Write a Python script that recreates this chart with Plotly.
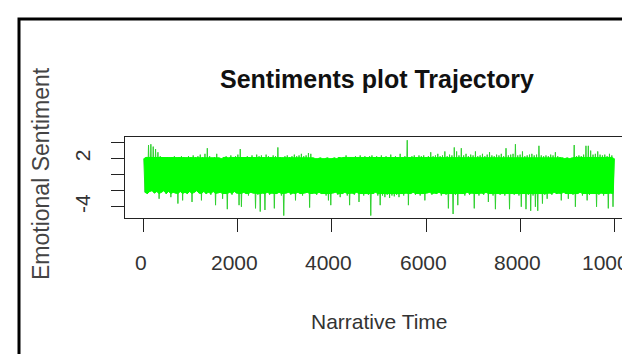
import plotly.graph_objects as go

# Narrative time window size (each window holds the highest and lowest sentiment seen)
WINDOW = 50
TIME_END = 10000

# Highest sentiment per 50-step window (201 windows incl. final point at t=10000)
peak_high = [
    2.0, 2.2, 3.7, 3.8, 3.5, 3.2, 2.8, 2.3, 2.2, 2.1,
    2.2, 2.1, 2.2, 2.3, 2.1, 2.2, 2.3, 2.2, 2.1, 2.3,
    2.2, 2.4, 2.2, 2.3, 2.5, 2.2, 2.6, 3.3, 2.3, 2.1,
    2.2, 2.6, 2.1, 2.0, 2.2, 2.3, 2.1, 2.4, 2.2, 2.3,
    2.5, 3.2, 2.2, 2.1, 2.3, 2.2, 2.4, 2.2, 2.5, 2.3,
    2.4, 2.2, 2.5, 2.3, 2.2, 2.4, 2.3, 3.4, 2.2, 2.1,
    2.3, 2.4, 2.2, 2.3, 2.5, 2.3, 2.4, 2.6, 2.3, 2.4,
    2.7, 2.6, 2.1, 2.0, 2.0, 2.1, 2.0, 2.0, 2.1, 2.0,
    2.0, 2.1, 2.0, 2.2, 2.1, 2.2, 2.4, 2.1, 2.2, 2.1,
    2.3, 2.2, 2.4, 2.2, 2.3, 2.1, 2.3, 2.4, 2.2, 2.3,
    2.1, 2.4, 2.2, 2.3, 2.1, 2.5, 2.2, 2.3, 2.2, 2.6,
    2.2, 2.3, 4.3, 2.2, 2.3, 2.4, 2.2, 2.4, 2.3, 2.4,
    2.2, 2.3, 2.8, 2.3, 2.4, 2.6, 2.3, 2.4, 2.9, 2.3,
    2.5, 2.4, 3.4, 2.9, 2.4, 3.3, 2.4, 2.6, 2.3, 2.5,
    2.4, 2.9, 2.3, 2.4, 2.6, 2.3, 2.5, 2.8, 2.4, 2.3,
    2.5, 2.4, 2.6, 2.3, 3.3, 2.4, 2.5, 2.6, 3.8, 2.4,
    2.5, 2.9, 2.3, 2.4, 2.5, 2.6, 2.4, 2.5, 3.6, 2.4,
    2.3, 2.4, 2.3, 2.5, 2.4, 2.8, 2.3, 2.2, 2.1, 2.0,
    2.1, 2.0, 2.1, 3.7, 2.3, 2.4, 2.3, 2.5, 3.6, 3.6,
    3.0, 2.5, 2.6, 2.9, 2.5, 2.4, 2.5, 2.3, 2.6, 2.4,
    2.0,
]

# Lowest sentiment per 50-step window (200 windows)
peak_low = [
    -2.2, -2.4, -2.1, -2.0, -2.3, -2.1, -3.0, -2.2, -2.0, -2.4,
    -2.1, -2.8, -2.2, -2.3, -3.6, -2.1, -3.2, -2.2, -2.4, -2.1,
    -3.4, -2.2, -2.0, -2.3, -3.2, -2.1, -2.4, -2.2, -2.5, -2.1,
    -3.8, -2.3, -2.2, -3.0, -2.4, -4.3, -2.2, -2.5, -2.1, -2.3,
    -3.8, -4.0, -2.2, -2.4, -2.6, -2.2, -2.3, -4.2, -2.5, -4.6,
    -2.3, -4.4, -2.2, -2.5, -2.3, -4.2, -2.4, -2.2, -2.6, -5.1,
    -2.3, -2.2, -2.5, -2.3, -3.2, -2.2, -2.4, -2.6, -2.3, -2.2,
    -4.1, -2.4, -2.3, -2.5, -2.2, -2.4, -2.3, -2.6, -3.2, -3.8,
    -2.3, -2.2, -2.5, -2.8, -2.4, -2.2, -2.6, -3.8, -2.3, -2.5,
    -2.2, -3.4, -2.4, -2.6, -2.3, -2.5, -5.1, -2.4, -2.2, -2.6,
    -3.8, -2.6, -2.8, -2.5, -2.9, -2.6, -2.7, -2.5, -2.8, -2.4,
    -2.6, -2.3, -3.8, -2.4, -2.2, -2.5, -2.3, -2.6, -2.4, -3.2,
    -2.3, -2.2, -2.5, -2.3, -2.4, -2.2, -2.6, -2.3, -2.5, -4.2,
    -2.4, -4.9, -2.5, -3.8, -2.3, -2.4, -2.6, -2.2, -2.5, -2.3,
    -4.2, -2.4, -2.6, -2.3, -2.5, -2.2, -3.4, -2.4, -2.6, -4.3,
    -2.3, -2.5, -2.4, -2.6, -2.3, -4.3, -2.4, -2.5, -2.3, -2.6,
    -4.0, -2.4, -4.3, -2.5, -4.5, -2.6, -4.0, -4.5, -2.4, -3.6,
    -2.5, -3.0, -2.3, -2.5, -2.2, -2.4, -2.3, -3.2, -2.2, -2.4,
    -3.0, -2.3, -2.5, -4.0, -2.4, -2.2, -2.6, -2.3, -3.2, -2.5,
    -2.3, -2.4, -4.0, -2.5, -2.3, -2.6, -2.4, -4.2, -2.3, -4.0,
]

x_ticks = [0, 2000, 4000, 6000, 8000, 10000]
x_tick_labels = ["0", "2000", "4000", "6000", "8000", "10000"]
y_ticks = [-4, -2, 0, 2, 4]
y_tick_labels = ["-4", "", "", "2", ""]

# Trajectory: high and low of each window, in time order (thin spikes)
times, sentiment = [], []
for i, lo in enumerate(peak_low):
    times.append(i * WINDOW)
    sentiment.append(peak_high[i])
    times.append(i * WINDOW + WINDOW / 2)
    sentiment.append(lo)
times.append(TIME_END)
sentiment.append(peak_high[-1])

# Dense core of the band: the same windows, limited to the thick central region
CORE_TOP, CORE_BOTTOM = 2.15, -2.35
high_times = [i * WINDOW for i in range(len(peak_high) - 1)] + [TIME_END]
low_times = [i * WINDOW + WINDOW / 2 for i in range(len(peak_low))]
core_x = high_times + low_times[::-1]
core_y = [min(v, CORE_TOP) for v in peak_high] + [max(v, CORE_BOTTOM) for v in peak_low][::-1]

W, H = 630, 354
FONT = "Liberation Sans, Arial, Helvetica, sans-serif"
GREEN = "#00FF00"
SPIKE_GREEN = "#2fd02f"

fig = go.Figure()
fig.add_trace(go.Scatter(
    x=times, y=sentiment, mode="lines",
    line=dict(color=SPIKE_GREEN, width=1),
    showlegend=False, hoverinfo="skip",
))
fig.add_trace(go.Scatter(
    x=core_x, y=core_y, mode="lines", fill="toself", fillcolor=GREEN,
    line=dict(color=GREEN, width=1),
    showlegend=False, hoverinfo="skip",
))

annotations = [
    dict(text="<b>Sentiments plot Trajectory</b>", x=369 / W, y=1 - 71 / H,
         xref="paper", yref="paper", xanchor="center", yanchor="middle",
         showarrow=False, font=dict(size=25, family=FONT, color="#111111")),
    dict(text="Narrative Time", x=371 / W, y=1 - 313 / H,
         xref="paper", yref="paper", xanchor="center", yanchor="middle",
         showarrow=False, font=dict(size=21, family=FONT, color="#333333")),
    dict(text="Emotional Sentiment", x=33 / W, y=1 - 166 / H, textangle=-90,
         xref="paper", yref="paper", xanchor="center", yanchor="middle",
         showarrow=False, font=dict(size=23, family=FONT, color="#444444")),
]
for tv, tl in zip(x_ticks, x_tick_labels):
    annotations.append(dict(
        text=tl, x=tv, xref="x", y=1 - 254 / H, yref="paper",
        xanchor="center", yanchor="middle", showarrow=False, xshift=-3,
        font=dict(size=21, family=FONT, color="#333333"),
    ))

fig.update_layout(
    width=W, height=H, autosize=False,
    margin=dict(l=0, r=0, t=0, b=0),
    paper_bgcolor="white", plot_bgcolor="white",
    font=dict(family=FONT, color="#222222"),
    xaxis=dict(
        domain=[117 / W, 625 / W], range=[-400, 10400],
        tickmode="array", tickvals=x_ticks, showticklabels=False,
        ticks="outside", ticklen=13, tickwidth=1, tickcolor="#222222",
        showline=True, mirror=True, linecolor="#222222", linewidth=1,
        showgrid=False, zeroline=False,
    ),
    yaxis=dict(
        domain=[(H - 210) / H, (H - 129) / H], range=[-5.4, 4.7],
        tickmode="array", tickvals=y_ticks, ticktext=y_tick_labels,
        tickangle=-90,
        ticks="outside", ticklen=13, tickwidth=1, tickcolor="#222222",
        showline=True, mirror=True, linecolor="#222222", linewidth=1,
        showgrid=False, zeroline=False,
        tickfont=dict(size=21, family=FONT, color="#333333"),
        ticklabelstandoff=13,
    ),
    annotations=annotations,
    shapes=[
        dict(type="rect", xref="paper", yref="paper",
             x0=11 / W, x1=1.05, y0=-0.05, y1=1 - 11 / H,
             line=dict(color="black", width=3)),
    ],
)

fig.write_html("out.html")
